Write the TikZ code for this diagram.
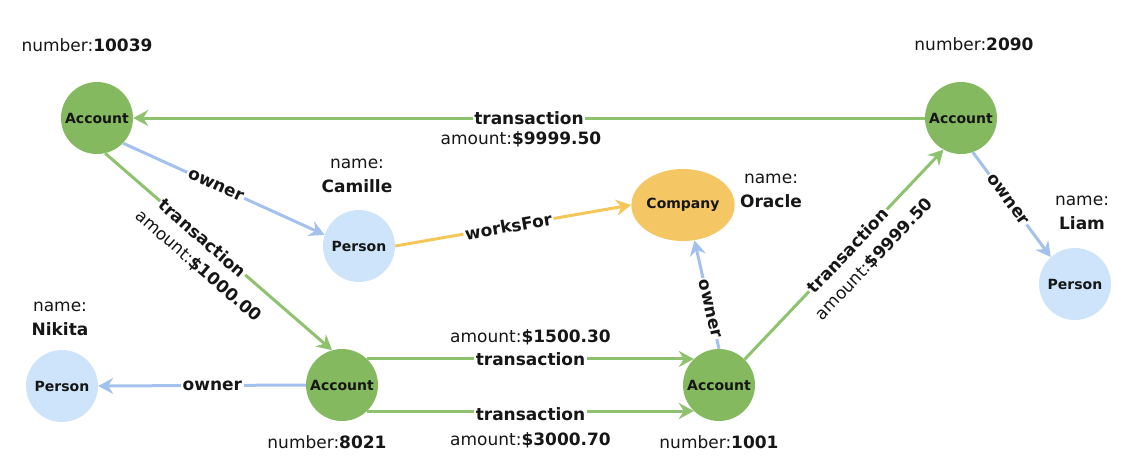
\documentclass[tikz,border=0pt]{standalone}
\usepackage{fontspec}
\setmainfont{DejaVu Sans}
\usetikzlibrary{arrows.meta}
\usetikzlibrary{shapes.geometric}
\definecolor{accfill}{RGB}{132,185,95}
\definecolor{accline}{RGB}{143,194,110}
\definecolor{perfill}{RGB}{205,228,250}
\definecolor{perline}{RGB}{163,193,236}
\definecolor{comfill}{RGB}{244,198,100}
\definecolor{comline}{RGB}{245,199,90}
\definecolor{txt}{RGB}{22,22,22}

\begin{document}
\begin{tikzpicture}[x=1pt,y=-1pt,
    vtx/.style={circle,minimum size=72pt,inner sep=0pt,text=txt,
      font=\fontsize{14}{16}\selectfont\bfseries},
    acc/.style={vtx,fill=accfill},
    per/.style={vtx,fill=perfill},
    com/.style={vtx,ellipse,fill=comfill,minimum width=101pt,minimum height=72pt},
    prop/.style={align=center,inner sep=0pt,text=txt,
      font=\fontsize{17}{24}\selectfont},
    rel/.style={line width=3pt,-{Stealth[length=15pt,width=16pt,inset=5pt]}},
    trans/.style={rel,draw=accline},
    own/.style={rel,draw=perline},
    works/.style={rel,draw=comline},
    elabel/.style={fill=white,inner sep=1.5pt,text=txt,
      font=\fontsize{17}{20}\selectfont\bfseries},
    amount/.style={inner sep=0pt,text=txt,font=\fontsize{17}{20}\selectfont}]
    \useasboundingbox (0,0) rectangle (1122,459);
    % Nodes
    \node[acc] (a10039) at (97,118) {Account};
    \node[acc] (a2090) at (961,118) {Account};
    \node[acc] (a8021) at (342,385) {Account};
    \node[acc] (a1001) at (719,385) {Account};
    \node[per] (camille) at (359,246) {Person};
    \node[per] (liam) at (1075,284) {Person};
    \node[per] (nikita) at (62,386) {Person};
    \node[com] (oracle) at (683,205) {Company};
    % Properties
    \node[prop] (p10039) at (87,45) {number:\textbf{10039}};
    \node[prop] (p2090) at (974,44) {number:\textbf{2090}};
    \node[prop] (p8021) at (327,442) {number:\textbf{8021}};
    \node[prop] (p1001) at (719,442) {number:\textbf{1001}};
    \node[prop] (pcamille) at (357,176) {name:\\\textbf{Camille}};
    \node[prop] (poracle) at (771,191) {name:\\\textbf{Oracle}};
    \node[prop] (pliam) at (1082,213) {name:\\\textbf{Liam}};
    \node[prop] (pnikita) at (60,319) {name:\\\textbf{Nikita}};
    % Transactions
    \draw[trans] (a2090.west) -- (a10039.east)
      node[elabel,midway] {transaction}
      node[amount,midway,below=12pt,xshift=-8pt] {amount:\textbf{\$9999.50}};
    \draw[trans] (a10039.-77) -- (a8021.106)
      node[elabel,sloped,pos=0.43] {transaction}
      node[amount,sloped,pos=0.48,below=15pt] {amount:\textbf{\$1000.00}};
    \draw[trans] (a8021.46) -- (a1001.134)
      node[elabel,midway] {transaction}
      node[amount,midway,above=12pt] {amount:\textbf{\$1500.30}};
    \draw[trans] (a8021.-46) -- (a1001.-134)
      node[elabel,midway,yshift=-3pt] {transaction}
      node[amount,midway,below=20pt] {amount:\textbf{\$3000.70}};
    \draw[trans] (a1001.45) -- (a2090.-119)
      node[elabel,sloped,pos=0.52] {transaction}
      node[amount,sloped,pos=0.56,below=16pt] {amount:\textbf{\$9999.50}};
    % Owners
    \draw[own] (a10039.-44) -- (camille.162)
      node[elabel,sloped,pos=0.46] {owner};
    \draw[own] (a2090.-71) -- (liam.132)
      node[elabel,sloped,pos=0.45] {owner};
    \draw[own] (a8021.west) -- (nikita.east)
      node[elabel,pos=0.45] {owner};
    \draw[own] (a1001.north) -- (oracle.-72)
      node[elabel,sloped,pos=0.37] {owner};
    % Works for
    \draw[works] (camille.east) -- (oracle.west)
      node[elabel,sloped,pos=0.48] {worksFor};
\end{tikzpicture}
\end{document}
